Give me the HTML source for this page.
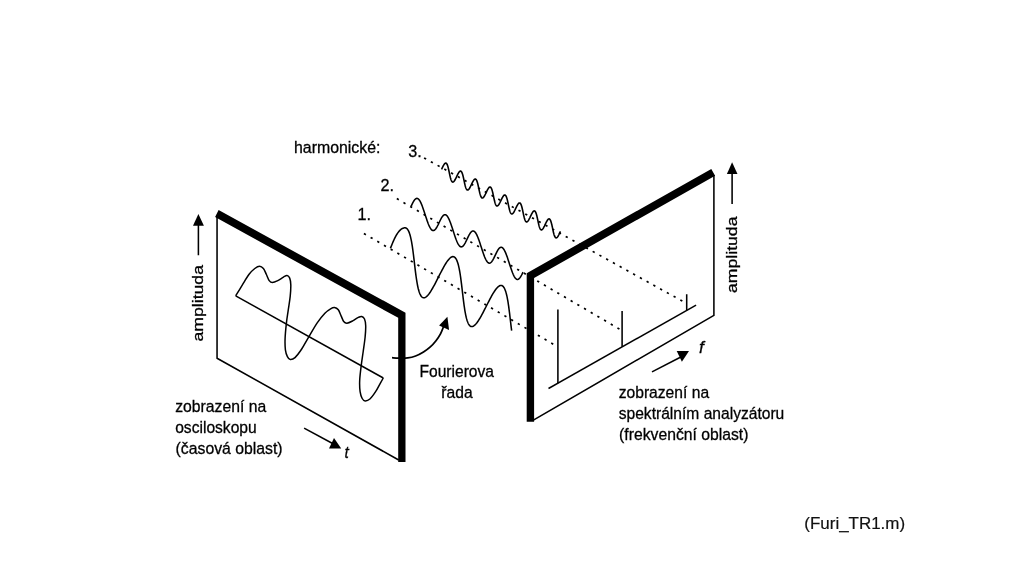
<!DOCTYPE html>
<html><head><meta charset="utf-8"><title>Fourierova rada</title>
<style>
html,body{margin:0;padding:0;background:#fff;}
body{width:1024px;height:574px;overflow:hidden;position:relative;font-family:"Liberation Sans",sans-serif;}
</style></head><body>
<svg width="1024" height="574" viewBox="0 0 1024 574" style="position:absolute;left:0;top:0;will-change:transform">
<g fill="none" stroke="#000" stroke-width="1.55" stroke-linecap="butt" stroke-linejoin="round">
<path d="M363.9 233.5 L557.9 346.9" stroke-width="1.7" stroke-dasharray="2.3 5.45" stroke-dashoffset="0"/>
<path d="M396.8 198.6 L622 330.6" stroke-width="1.7" stroke-dasharray="2.3 5.45" stroke-dashoffset="0"/>
<path d="M424.1 157.9 L683.4 301.7" stroke-width="1.7" stroke-dasharray="2.3 5.41" stroke-dashoffset="0"/>
<path d="M217.05 215 L217.05 358.2 L398.7 460.0"/>
<path d="M235.7 295.9 L383.3 378"/>
<path d="M235.7 295.9C236.82 294.05 240.17 288.4 242.4 284.8C244.63 281.2 247.03 277.02 249.1 274.3C251.17 271.58 253.05 269.85 254.8 268.5C256.55 267.15 258.17 266.2 259.6 266.2C261.03 266.2 262.28 267.15 263.4 268.5C264.52 269.85 265.33 272.28 266.3 274.3C267.27 276.32 268.18 279.23 269.2 280.6C270.22 281.97 270.97 282.5 272.4 282.5C273.83 282.5 275.95 281.5 277.8 280.6C279.65 279.7 281.97 277.93 283.5 277.1C285.03 276.27 285.97 275.43 287 275.6C288.03 275.77 289.07 276.57 289.7 278.1C290.33 279.63 290.72 281.77 290.8 284.8C290.88 287.83 290.62 292.15 290.2 296.3C289.78 300.45 288.93 305.23 288.3 309.7C287.67 314.17 286.93 318.32 286.4 323.1C285.87 327.88 285.27 333.93 285.1 338.4C284.93 342.87 285.02 346.87 285.4 349.9C285.78 352.93 286.6 355 287.4 356.6C288.2 358.2 288.93 359.33 290.2 359.5C291.47 359.67 293.08 359.35 295 357.6C296.92 355.85 299.45 352.38 301.7 349C303.95 345.62 305.92 341.67 308.5 337.3C311.08 332.93 314.47 326.82 317.2 322.8C319.93 318.78 322.67 315.53 324.9 313.2C327.13 310.87 329 309.75 330.6 308.8C332.2 307.85 333.22 307.33 334.5 307.5C335.78 307.67 337.18 308.37 338.3 309.8C339.42 311.23 340.3 314.15 341.2 316.1C342.1 318.05 342.75 320.32 343.7 321.5C344.65 322.68 345.4 323.3 346.9 323.2C348.4 323.1 350.78 321.87 352.7 320.9C354.62 319.93 356.9 318.13 358.4 317.4C359.9 316.67 360.68 316.23 361.7 316.5C362.72 316.77 363.83 317.47 364.5 319C365.17 320.53 365.6 322.67 365.7 325.7C365.8 328.73 365.52 332.9 365.1 337.2C364.68 341.5 363.83 346.88 363.2 351.5C362.57 356.12 361.88 360.1 361.3 364.9C360.72 369.7 359.9 375.83 359.7 380.3C359.5 384.77 359.68 388.67 360.1 391.7C360.52 394.73 361.37 396.97 362.2 398.5C363.03 400.03 363.82 400.82 365.1 400.9C366.38 400.98 368.15 400.53 369.9 399C371.65 397.47 373.85 394.35 375.6 391.7C377.35 389.05 379.12 385.38 380.4 383.1C381.68 380.82 382.82 378.85 383.3 378" stroke-width="1.5"/>
<path d="M390.4 248.4L390.99 246.91L391.58 245.42L392.17 243.95L392.77 242.51L393.38 241.09L394 239.71L394.63 238.38L395.28 237.1L395.93 235.88L396.61 234.72L397.29 233.63L397.99 232.63L398.7 231.7L399.42 230.86L400.15 230.12L400.89 229.47L401.63 228.93L402.37 228.49L403.11 228.15L403.85 227.93L404.57 227.83L405.28 227.83L405.82 227.96L406.33 228.2L406.82 228.56L407.3 229.03L407.75 229.63L408.2 230.33L408.62 231.15L409.03 232.09L409.42 233.13L409.8 234.27L410.17 235.52L410.52 236.86L410.85 238.3L411.18 239.83L411.49 241.43L411.79 243.12L412.08 244.88L412.36 246.7L412.64 248.58L412.9 250.51L413.16 252.49L413.42 254.51L413.67 256.55L413.91 258.62L414.16 260.71L414.4 262.8L414.64 264.89L414.89 266.98L415.13 269.05L415.38 271.09L415.64 273.11L415.9 275.09L416.16 277.02L416.44 278.9L416.72 280.72L417.01 282.48L417.31 284.17L417.62 285.77L417.95 287.3L418.28 288.74L418.63 290.08L419 291.33L419.38 292.47L419.77 293.51L420.18 294.45L420.6 295.27L421.05 295.97L421.5 296.57L421.98 297.04L422.47 297.4L422.98 297.64L423.5 297.77L424.05 297.77L424.6 297.67L425.18 297.45L425.77 297.11L426.38 296.67L427 296.13L427.63 295.48L428.28 294.74L428.95 293.9L429.62 292.97L430.31 291.97L431.01 290.88L431.72 289.72L432.44 288.5L433.16 287.22L433.9 285.89L434.64 284.51L435.38 283.09L436.13 281.65L436.89 280.18L437.64 278.69L438.4 277.2L439.16 275.71L439.91 274.22L440.67 272.75L441.42 271.31L442.16 269.89L442.9 268.51L443.64 267.18L444.36 265.9L445.08 264.68L445.79 263.52L446.49 262.43L447.18 261.43L447.85 260.5L448.52 259.66L449.17 258.92L449.8 258.27L450.42 257.73L451.03 257.29L451.62 256.95L452.2 256.73L452.75 256.63L453.3 256.63L453.82 256.76L454.33 257L454.82 257.36L455.3 257.83L455.75 258.43L456.2 259.13L456.62 259.95L457.03 260.89L457.42 261.93L457.8 263.07L458.17 264.32L458.52 265.66L458.85 267.1L459.18 268.63L459.49 270.23L459.79 271.92L460.08 273.68L460.36 275.5L460.64 277.38L460.9 279.31L461.16 281.29L461.42 283.31L461.67 285.35L461.91 287.42L462.16 289.51L462.4 291.6L462.64 293.69L462.89 295.78L463.13 297.85L463.38 299.89L463.64 301.91L463.9 303.89L464.16 305.82L464.44 307.7L464.72 309.52L465.01 311.28L465.31 312.97L465.62 314.57L465.95 316.1L466.28 317.54L466.63 318.88L467 320.13L467.38 321.27L467.77 322.31L468.18 323.25L468.6 324.07L469.05 324.77L469.5 325.37L469.98 325.84L470.47 326.2L470.98 326.44L471.5 326.57L472.05 326.57L472.6 326.47L473.18 326.25L473.77 325.91L474.38 325.47L475 324.93L475.63 324.28L476.28 323.54L476.95 322.7L477.62 321.77L478.31 320.77L479.01 319.68L479.72 318.52L480.43 317.3L481.16 316.02L481.9 314.69L482.64 313.31L483.38 311.89L484.13 310.45L484.89 308.98L485.64 307.49L486.4 306L487.16 304.51L487.91 303.02L488.67 301.55L489.42 300.11L490.16 298.69L490.9 297.31L491.64 295.98L492.36 294.7L493.08 293.48L493.79 292.32L494.49 291.23L495.18 290.23L495.85 289.3L496.52 288.46L497.17 287.72L497.8 287.07L498.42 286.53L499.03 286.09L499.62 285.75L500.2 285.53L500.75 285.43L501.3 285.43L501.82 285.56L502.33 285.8L502.82 286.16L503.3 286.63L503.75 287.23L504.2 287.93L504.62 288.75L505.03 289.69L505.42 290.73L505.8 291.87L506.17 293.12L506.52 294.46L506.85 295.9L507.18 297.43L507.49 299.03L507.79 300.72L508.08 302.48L508.36 304.3L508.64 306.18L508.9 308.11L509.16 310.09L509.42 312.11L509.67 314.15L509.91 316.22L510.16 318.31L510.4 320.4L510.64 322.49L510.89 324.58L511.13 326.65L511.38 328.69L511.64 330.71" stroke-width="1.55"/>
<path d="M411.05 206.35L411.53 205.33L412.02 204.32L412.5 203.35L412.99 202.42L413.47 201.56L413.96 200.78L414.44 200.09L414.93 199.5L415.42 199.03L415.92 198.68L416.41 198.46L416.9 198.38L417.4 198.45L417.9 198.66L418.4 199.02L418.9 199.52L419.41 200.17L419.91 200.96L420.42 201.88L420.93 202.92L421.44 204.08L421.96 205.35L422.47 206.7L422.98 208.14L423.5 209.64L424.02 211.19L424.53 212.78L425.05 214.38L425.57 215.98L426.08 217.57L426.6 219.12L427.11 220.63L427.63 222.08L428.14 223.45L428.66 224.73L429.17 225.9L429.68 226.96L430.18 227.9L430.69 228.71L431.2 229.38L431.7 229.9L432.2 230.28L432.7 230.51L433.2 230.6L433.69 230.54L434.19 230.34L434.68 230.01L435.17 229.55L435.66 228.98L436.15 228.3L436.63 227.53L437.12 226.68L437.6 225.76L438.09 224.8L438.57 223.8L439.05 222.77L439.54 221.75L440.02 220.74L440.5 219.76L440.99 218.83L441.47 217.96L441.96 217.16L442.45 216.46L442.93 215.86L443.42 215.37L443.92 215L444.41 214.76L444.9 214.67L445.4 214.71L445.9 214.9L446.4 215.24L446.9 215.72L447.41 216.35L447.91 217.12L448.42 218.02L448.93 219.05L449.44 220.19L449.95 221.45L450.47 222.79L450.98 224.22L451.5 225.71L452.01 227.25L452.53 228.83L453.05 230.43L453.56 232.04L454.08 233.63L454.6 235.19L455.11 236.71L455.63 238.16L456.14 239.54L456.65 240.83L457.16 242.02L457.67 243.1L458.18 244.06L458.69 244.88L459.2 245.57L459.7 246.12L460.2 246.52L460.7 246.77L461.2 246.87L461.69 246.84L462.19 246.66L462.68 246.35L463.17 245.91L463.66 245.35L464.15 244.69L464.63 243.93L465.12 243.09L465.6 242.18L466.09 241.22L466.57 240.22L467.05 239.2L467.54 238.17L468.02 237.16L468.51 236.18L468.99 235.24L469.47 234.36L469.96 233.55L470.45 232.83L470.94 232.21L471.43 231.71L471.92 231.32L472.41 231.07L472.91 230.95L473.4 230.98L473.9 231.15L474.4 231.46L474.9 231.93L475.41 232.54L475.91 233.29L476.42 234.17L476.93 235.18L477.44 236.31L477.95 237.54L478.47 238.88L478.98 240.29L479.5 241.78L480.01 243.32L480.53 244.89L481.04 246.49L481.56 248.09L482.08 249.69L482.59 251.25L483.11 252.78L483.62 254.24L484.14 255.63L484.65 256.94L485.16 258.15L485.67 259.24L486.18 260.21L486.69 261.06L487.19 261.76L487.7 262.33L488.2 262.75L488.7 263.02L489.2 263.15L489.69 263.13L490.19 262.97L490.68 262.68L491.17 262.26L491.66 261.71L492.15 261.06L492.64 260.32L493.12 259.49L493.61 258.59L494.09 257.63L494.57 256.64L495.06 255.62L495.54 254.6L496.02 253.58L496.51 252.59L496.99 251.65L497.48 250.76L497.96 249.94L498.45 249.21L498.94 248.58L499.43 248.05L499.92 247.65L500.41 247.38L500.91 247.24L501.4 247.25L501.9 247.4L502.4 247.69L502.9 248.14L503.41 248.72L503.91 249.45L504.42 250.32L504.93 251.31L505.44 252.42L505.95 253.65L506.46 254.97L506.98 256.37L507.49 257.85L508.01 259.38L508.53 260.95L509.04 262.55L509.56 264.15L510.08 265.75L510.59 267.32L511.11 268.85L511.62 270.32L512.14 271.73L512.65 273.04L513.16 274.26L513.67 275.37L514.18 276.37L514.69 277.23L515.19 277.95L515.7 278.54L516.2 278.98L516.7 279.27L517.2 279.42L517.69 279.42L518.19 279.28L518.68 279.01L519.17 278.6L519.66 278.08L520.15 277.44L520.64 276.71L521.12 275.89L521.61 275L522.09 274.05L522.58 273.06L523.06 272.05" stroke-width="1.55"/>
<path d="M441.53 169.38L441.84 168.73L442.15 168.08L442.45 167.43L442.76 166.81L443.07 166.2L443.37 165.63L443.67 165.1L443.96 164.62L444.25 164.19L444.54 163.83L444.82 163.53L445.1 163.31L445.37 163.16L445.64 163.09L445.9 163.1L446.15 163.2L446.39 163.38L446.64 163.64L446.87 163.99L447.1 164.41L447.32 164.91L447.54 165.48L447.75 166.12L447.96 166.83L448.16 167.58L448.36 168.39L448.56 169.23L448.76 170.11L448.95 171.01L449.14 171.92L449.33 172.84L449.53 173.76L449.72 174.67L449.91 175.56L450.11 176.42L450.31 177.24L450.51 178.02L450.72 178.74L450.93 179.41L451.14 180.01L451.36 180.55L451.59 181.01L451.82 181.39L452.06 181.69L452.3 181.9L452.55 182.04L452.81 182.09L453.07 182.05L453.34 181.94L453.61 181.75L453.89 181.48L454.18 181.15L454.47 180.75L454.76 180.29L455.06 179.78L455.36 179.22L455.66 178.63L455.97 178.02L456.28 177.38L456.59 176.73L456.89 176.08L457.2 175.43L457.51 174.8L457.81 174.2L458.12 173.62L458.42 173.09L458.71 172.61L459 172.18L459.29 171.81L459.57 171.51L459.85 171.28L460.12 171.13L460.39 171.06L460.64 171.07L460.9 171.16L461.14 171.34L461.39 171.6L461.62 171.94L461.85 172.36L462.07 172.86L462.29 173.43L462.5 174.07L462.71 174.77L462.92 175.52L463.12 176.32L463.31 177.17L463.51 178.04L463.7 178.94L463.89 179.86L464.09 180.78L464.28 181.7L464.47 182.61L464.66 183.49L464.86 184.35L465.06 185.18L465.26 185.96L465.47 186.69L465.68 187.36L465.89 187.96L466.11 188.5L466.34 188.96L466.57 189.34L466.81 189.65L467.05 189.87L467.3 190L467.56 190.06L467.82 190.03L468.09 189.92L468.36 189.73L468.64 189.46L468.93 189.13L469.22 188.73L469.51 188.28L469.81 187.77L470.11 187.22L470.41 186.63L470.72 186.01L471.03 185.37L471.33 184.72L471.64 184.07L471.95 183.43L472.26 182.8L472.56 182.19L472.86 181.62L473.16 181.08L473.46 180.6L473.75 180.16L474.04 179.79L474.32 179.49L474.6 179.26L474.87 179.11L475.14 179.03L475.39 179.04L475.65 179.13L475.9 179.3L476.14 179.56L476.37 179.9L476.6 180.32L476.82 180.81L477.04 181.38L477.25 182.01L477.46 182.71L477.67 183.46L477.87 184.26L478.07 185.1L478.26 185.98L478.45 186.87L478.65 187.79L478.84 188.71L479.03 189.63L479.22 190.54L479.42 191.43L479.61 192.29L479.81 193.12L480.01 193.9L480.22 194.63L480.43 195.3L480.65 195.91L480.87 196.45L481.09 196.91L481.32 197.3L481.56 197.61L481.8 197.83L482.05 197.97L482.31 198.03L482.57 198L482.84 197.89L483.11 197.71L483.39 197.45L483.68 197.12L483.96 196.72L484.26 196.27L484.56 195.76L484.86 195.21L485.16 194.62L485.47 194.01L485.77 193.37L486.08 192.72L486.39 192.07L486.7 191.42L487 190.79L487.31 190.18L487.61 189.61L487.91 189.07L488.21 188.58L488.5 188.15L488.79 187.78L489.07 187.47L489.35 187.24L489.62 187.08L489.88 187L490.14 187.01L490.4 187.09L490.65 187.26L490.89 187.52L491.12 187.85L491.35 188.27L491.57 188.76L491.79 189.32L492.01 189.96L492.21 190.65L492.42 191.4L492.62 192.2L492.82 193.04L493.01 193.91L493.21 194.81L493.4 195.72L493.59 196.64L493.78 197.56L493.98 198.47L494.17 199.36L494.37 200.23L494.56 201.06L494.77 201.84L494.97 202.57L495.18 203.25L495.4 203.86L495.62 204.4L495.84 204.87L496.07 205.26L496.31 205.57L496.55 205.79L496.8 205.94L497.06 206L497.32 205.97L497.59 205.87L497.86 205.69L498.14 205.43L498.42 205.1L498.71 204.71L499.01 204.26L499.3 203.75L499.6 203.2L499.91 202.62L500.21 202L500.52 201.37L500.83 200.72L501.14 200.06L501.45 199.42L501.75 198.79L502.06 198.18L502.36 197.6L502.66 197.06L502.96 196.57L503.25 196.14L503.54 195.76L503.82 195.45L504.1 195.22L504.37 195.06L504.63 194.98L504.89 194.98L505.15 195.06L505.4 195.23L505.64 195.48L505.87 195.81L506.1 196.22L506.33 196.71L506.54 197.27L506.76 197.9L506.97 198.59L507.17 199.34L507.37 200.14L507.57 200.97L507.77 201.85L507.96 202.74L508.15 203.66L508.34 204.58L508.53 205.5L508.73 206.41L508.92 207.3L509.12 208.16L509.32 208.99L509.52 209.78L509.72 210.51L509.93 211.19L510.15 211.8L510.37 212.35L510.59 212.82L510.82 213.21L511.06 213.53L511.3 213.76L511.55 213.9L511.81 213.97L512.07 213.95L512.34 213.84L512.61 213.67L512.89 213.41L513.17 213.09L513.46 212.7L513.75 212.25L514.05 211.75L514.35 211.2L514.66 210.61L514.96 210L515.27 209.36L515.58 208.71L515.88 208.06L516.19 207.41L516.5 206.78L516.8 206.17L517.11 205.59L517.41 205.05L517.7 204.56L518 204.12L518.28 203.75L518.57 203.44L518.85 203.2L519.12 203.03L519.38 202.95L519.64 202.94L519.9 203.02L520.15 203.19L520.39 203.43L520.62 203.76L520.85 204.17L521.08 204.66L521.3 205.22L521.51 205.84L521.72 206.53L521.92 207.28L522.12 208.07L522.32 208.91L522.52 209.78L522.71 210.68L522.9 211.59L523.1 212.51L523.29 213.43L523.48 214.34L523.67 215.24L523.87 216.1L524.07 216.93L524.27 217.72L524.48 218.46L524.68 219.14L524.9 219.75L525.12 220.3L525.34 220.77L525.57 221.17L525.81 221.49L526.05 221.72L526.3 221.87L526.56 221.94L526.82 221.92L527.09 221.82L527.36 221.64L527.64 221.39L527.92 221.07L528.21 220.68L528.5 220.24L528.8 219.74L529.1 219.19L529.4 218.61L529.71 217.99L530.02 217.36L530.32 216.71L530.63 216.06L530.94 215.41L531.25 214.78L531.55 214.17L531.86 213.59L532.16 213.05L532.45 212.55L532.74 212.11L533.03 211.73L533.32 211.42L533.59 211.17L533.87 211.01L534.13 210.92L534.39 210.91L534.65 210.99L534.9 211.15L535.14 211.39L535.37 211.72L535.6 212.12L535.83 212.61L536.05 213.16L536.26 213.79L536.47 214.47L536.67 215.22L536.88 216.01L537.07 216.85L537.27 217.72L537.46 218.61L537.66 219.52L537.85 220.44L538.04 221.37L538.23 222.28L538.43 223.17L538.62 224.04L538.82 224.87L539.02 225.66L539.23 226.4L539.44 227.08L539.65 227.7L539.87 228.25L540.09 228.73L540.32 229.13L540.56 229.44L540.8 229.68L541.05 229.83L541.31 229.9L541.57 229.89L541.84 229.8L542.11 229.62L542.39 229.38L542.67 229.06L542.96 228.67L543.25 228.23L543.55 227.73L543.85 227.18L544.15 226.6L544.46 225.99L544.76 225.35L545.07 224.71L545.38 224.05L545.69 223.41L546 222.77L546.3 222.16L546.6 221.58L546.9 221.04L547.2 220.54L547.49 220.1L547.78 219.72L548.06 219.4L548.34 219.15L548.62 218.98L548.88 218.89L549.14 218.88L549.4 218.96L549.65 219.11L549.89 219.35L550.12 219.67L550.35 220.08L550.58 220.56L550.8 221.11L551.01 221.73L551.22 222.42L551.43 223.16L551.63 223.95L551.83 224.78L552.02 225.65L552.22 226.54L552.41 227.46L552.6 228.38L552.79 229.3L552.98 230.21L553.18 231.11L553.37 231.97L553.57 232.81L553.77 233.6L553.98 234.34L554.19 235.02L554.4 235.65L554.62 236.2L554.85 236.68L555.08 237.08L555.31 237.4L555.55 237.64L555.8 237.8L556.06 237.87L556.32 237.86L556.58 237.77L556.86 237.6L557.14 237.36L557.42 237.04L557.71 236.66L558 236.22L558.3 235.72L558.6 235.18L558.9 234.6L559.2 233.98L559.51 233.35L559.82 232.7L560.13 232.05L560.44 231.4" stroke-width="1.6"/>
<path d="M713.9 175 L713.9 315.4 L532.5 420.7"/>
<path d="M548.5 388.5 L696.1 305.1"/>
<path d="M557.9 309.5 L557.9 383.2 M622.1 311.1 L622.1 346.8 M686.7 294.3 L686.7 310.4"/>
<path d="M198.4 225 L198.4 255.2 M732.1 173 L732.1 204"/>
<path d="M304.1 428.1 L334 444.3"/>
<path d="M652 371.9 L682.3 356.2"/>
<path d="M392 357.7C393.1 357.77 395.98 358.07 398.6 358.1C401.22 358.13 404.87 358.25 407.7 357.9C410.53 357.55 412.97 356.98 415.6 356C418.23 355.02 421.05 353.52 423.5 352C425.95 350.48 428.22 348.78 430.3 346.9C432.38 345.02 434.3 342.87 436 340.7C437.7 338.53 439.2 336.35 440.5 333.9C441.8 331.45 443.25 327.32 443.8 326" stroke-width="1.8"/>
</g>
<g fill="#000" stroke="none">
<path d="M218.6 209.95 L405.5 312.75 L405.5 462.1 L398.2 462.1 L398.2 317.8 L215.1 217.0 Z"/>
<path d="M711.3 168.95 L715.1 175.8 L534.1 278.0 L534.1 421.7 L526.7 421.7 L526.7 273.15 Z"/>
<path d="M198.4 214 L193 225.7 L203.9 225.7 Z"/>
<path d="M732.1 162.2 L726.9 173.9 L737.5 173.9 Z"/>
<path d="M341.2 448.6 L334 438.1 L329 448.6 Z"/>
<path d="M676.7 351.1 L689 351.1 L681.9 361.8 Z"/>
<path d="M447.4 316.8 L439.1 325.6 L449.1 330 Z"/>
</g>
<g fill="#000" stroke="#000" stroke-width="0.3" font-family="Liberation Sans, sans-serif" font-size="16.9">
<text x="294" y="152.7" textLength="86.5" lengthAdjust="spacingAndGlyphs">harmonické:</text>
<text x="357.6" y="220.3" textLength="13.5" lengthAdjust="spacingAndGlyphs">1.</text>
<text x="380.5" y="190.8" textLength="13.5" lengthAdjust="spacingAndGlyphs">2.</text>
<text x="408.3" y="156.8" textLength="13.5" lengthAdjust="spacingAndGlyphs">3.</text>
<text x="419.5" y="376.7" textLength="74.5" lengthAdjust="spacingAndGlyphs">Fourierova</text>
<text x="441.3" y="397.5" textLength="31.3" lengthAdjust="spacingAndGlyphs">řada</text>
<text x="175.2" y="411.5" textLength="91" lengthAdjust="spacingAndGlyphs">zobrazení na</text>
<text x="175.2" y="432.6" textLength="81.5" lengthAdjust="spacingAndGlyphs">osciloskopu</text>
<text x="175.6" y="453.5" textLength="107" lengthAdjust="spacingAndGlyphs">(časová oblast)</text>
<text x="618.7" y="397.5" textLength="90.4" lengthAdjust="spacingAndGlyphs">zobrazení na</text>
<text x="618.7" y="418.9" textLength="165.6" lengthAdjust="spacingAndGlyphs">spektrálním analyzátoru</text>
<text x="619.1" y="439.5" textLength="129.3" lengthAdjust="spacingAndGlyphs">(frekvenční oblast)</text>
<text x="344.6" y="457.5" font-style="italic" font-size="17.2" textLength="4.3" lengthAdjust="spacingAndGlyphs">t</text>
<text x="698.9" y="352.7" font-style="italic" font-size="17.4">f</text>
<text transform="translate(203.0 341.5) rotate(-90)" font-size="15.4" textLength="76.5" lengthAdjust="spacingAndGlyphs">amplituda</text>
<text transform="translate(736.6 293.0) rotate(-90)" font-size="15.4" textLength="76.5" lengthAdjust="spacingAndGlyphs">amplituda</text>
<text x="804.3" y="528.5" font-size="17" fill="#111" stroke="#111" stroke-width="0.2" textLength="100.8" lengthAdjust="spacingAndGlyphs">(Furi_TR1.m)</text>
</g>
</svg>
</body></html>
